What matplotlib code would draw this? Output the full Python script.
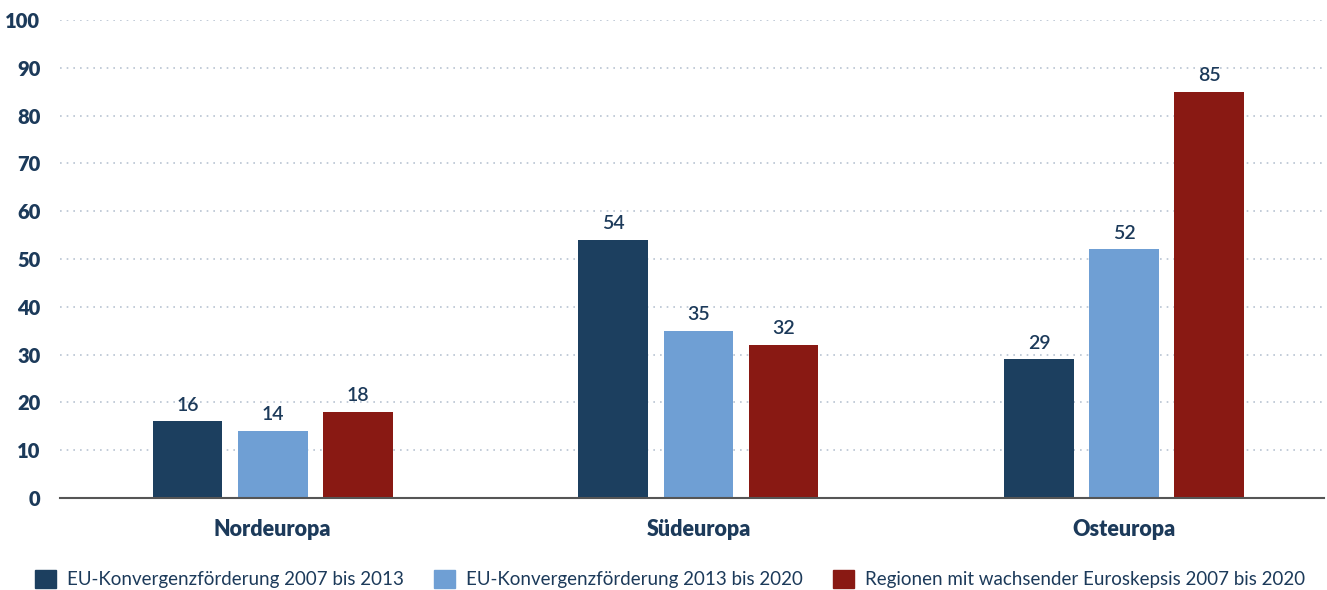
import matplotlib
matplotlib.use("Agg")
from matplotlib import pyplot as plt
from matplotlib.patches import Patch
import numpy as np

regions = ["Nordeuropa", "Südeuropa", "Osteuropa"]
series_names = ["EU-Konvergenzförderung 2007 bis 2013",
                "EU-Konvergenzförderung 2013 bis 2020",
                "Regionen mit wachsender Euroskepsis 2007 bis 2020"]
foerderung_0713 = [16, 54, 29]
foerderung_1320 = [14, 35, 52]
euroskepsis = [18, 32, 85]
colors = ["#1c3f5f", "#6f9fd4", "#891913"]
text_color = "#1c3a5a"

plt.rcParams['font.family'] = ['Lato', 'DejaVu Sans']

fig = plt.figure(figsize=(13.27, 5.9), dpi=100)
ax = fig.add_axes([0.045, 0.156, 0.953, 0.81])

x = np.arange(len(regions))
w = 0.164
step = 0.2
for i, vals in enumerate([foerderung_0713, foerderung_1320, euroskepsis]):
    pos = x + (i - 1) * step
    ax.bar(pos, vals, w, color=colors[i], zorder=3)
    for p, v in zip(pos, vals):
        ax.text(p, v + 1.6, str(v), ha='center', va='bottom',
                fontsize=14, color=text_color, fontweight='semibold')

ax.set_ylim(0, 100)
ax.set_xlim(-0.5, 2.47)
ax.set_yticks(range(0, 101, 10))
ax.set_xticks(x)
ax.set_xticklabels(regions, fontsize=15.5, fontweight='heavy', color=text_color)
ax.tick_params(axis='y', labelsize=14.5, labelcolor=text_color, length=0, pad=14)
ax.tick_params(axis='x', length=0, pad=15)
for lab in ax.get_yticklabels():
    lab.set_fontweight('heavy')

ax.grid(axis='y', color='#b8c4d2', linestyle=(0, (1, 3)), linewidth=1.2, zorder=0)
for s in ['top', 'right', 'left']:
    ax.spines[s].set_visible(False)
ax.spines['bottom'].set_color('#555555')
ax.spines['bottom'].set_linewidth(1.5)
ax.spines['bottom'].set_zorder(4)

handles = [Patch(color=c) for c in colors]
fig.legend(handles, series_names, loc='lower left', bbox_to_anchor=(0.014, -0.025),
           ncol=3, frameon=False, fontsize=13.5, handlelength=1.1, handleheight=1.1,
           columnspacing=1.6, handletextpad=0.6, labelcolor=text_color)

fig.savefig("out.png", dpi=100)
